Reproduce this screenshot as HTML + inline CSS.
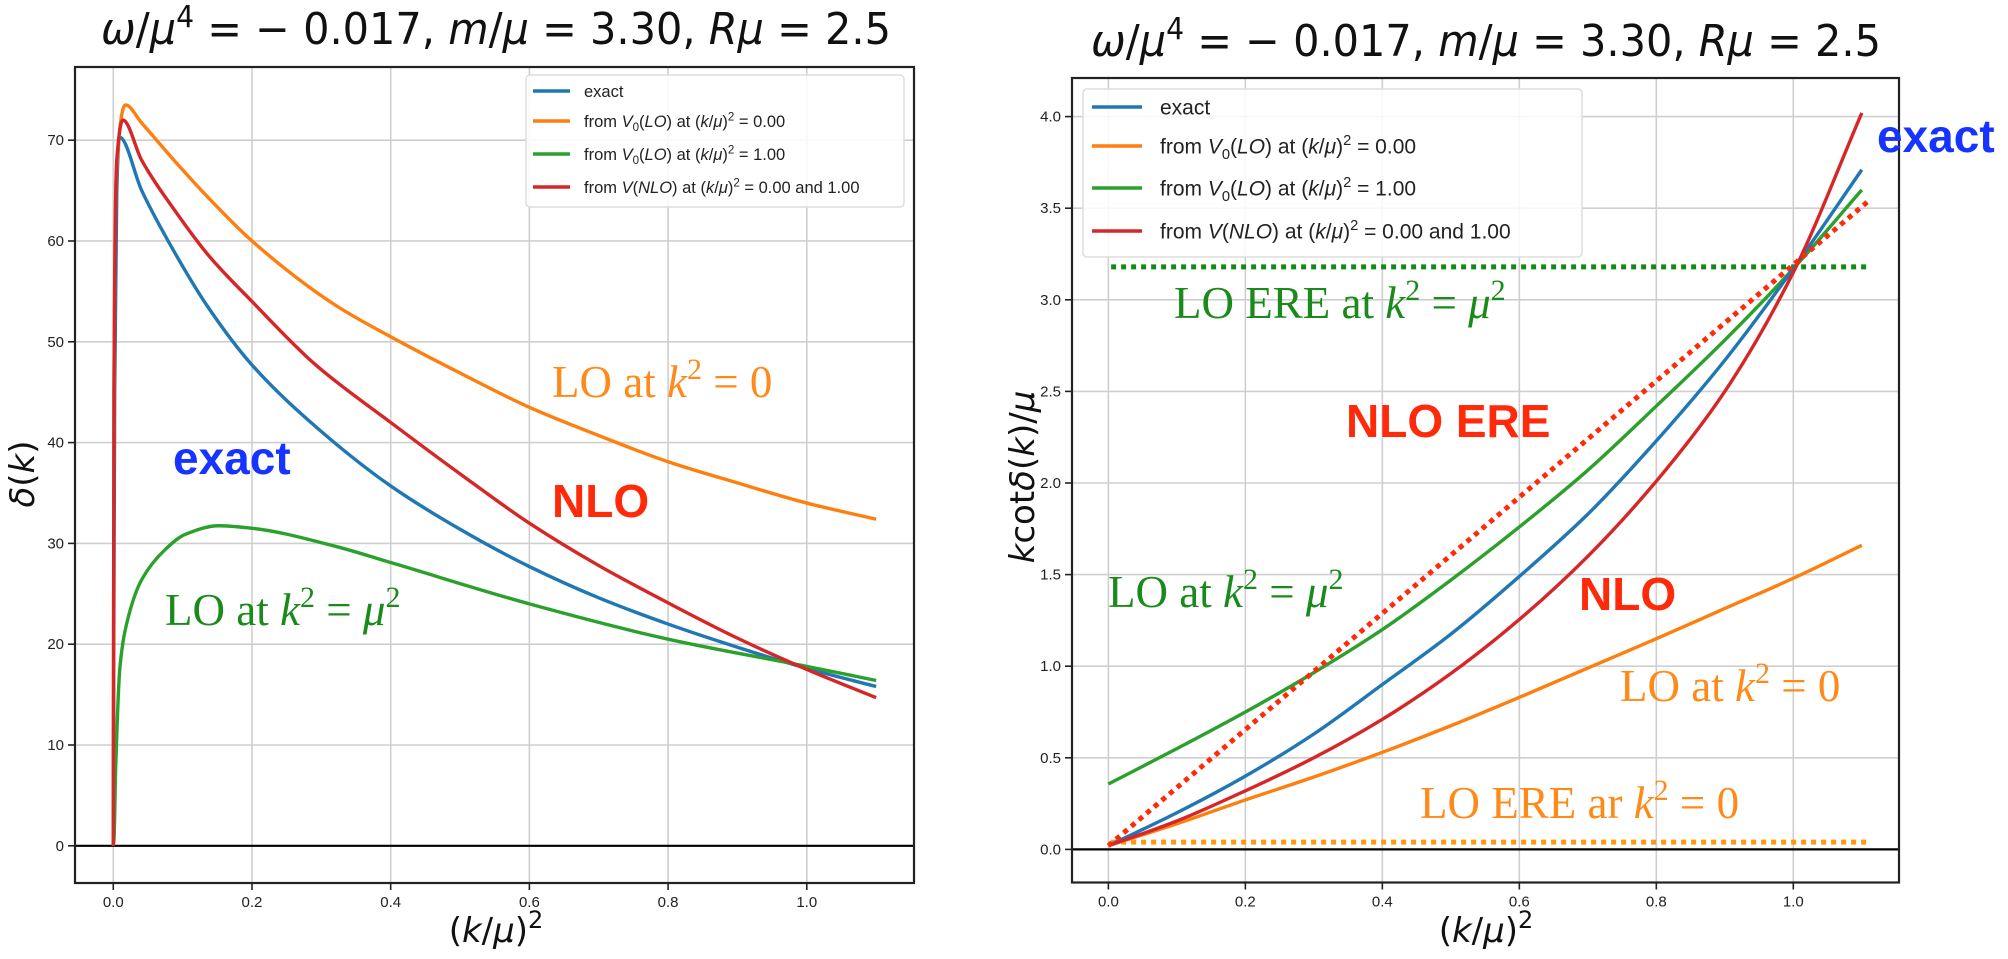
<!DOCTYPE html>
<html><head><meta charset="utf-8">
<style>
html,body{margin:0;padding:0;background:#fff;}
svg{display:block;}
text{font-family:"DejaVu Sans","Liberation Sans",sans-serif;}
.tick{font-family:"Liberation Sans",sans-serif;font-size:15px;fill:#222;}
.leg{font-family:"Liberation Sans",sans-serif;fill:#222;}
.ser{font-family:"Liberation Serif",serif;font-size:45px;}
.bold{font-family:"Liberation Sans",sans-serif;font-weight:bold;font-size:46px;}
</style></head>
<body>
<svg id="fig" width="2008" height="959" viewBox="0 0 2008 959" xmlns="http://www.w3.org/2000/svg">
<g id="left"></g>
<g id="right"></g>
</svg>
<script>
// ---------- Left chart data: delta(k) vs (k/mu)^2 ----------
const leftXTicks = [0.0, 0.2, 0.4, 0.6, 0.8, 1.0];
const leftYTicks = [0, 10, 20, 30, 40, 50, 60, 70];
const exactLX = [0, 0.0005, 0.002, 0.005, 0.009, 0.041, 0.089, 0.137, 0.2, 0.3, 0.4, 0.5, 0.6, 0.7, 0.8, 0.9, 1.0, 1.1];
const exactLY = [0, 13, 45, 65, 70.3, 65.0, 58.8, 53.4, 47.7, 41.1, 35.7, 31.4, 27.7, 24.6, 22.0, 19.7, 17.6, 15.8];
const loZeroLX = [0, 0.001, 0.004, 0.0175, 0.041, 0.089, 0.137, 0.2, 0.321, 0.4, 0.5, 0.6, 0.7, 0.8, 0.9, 1.0, 1.1];
const loZeroLY = [0, 45, 66, 73.5, 71.7, 67.9, 64.3, 60.0, 53.6, 50.5, 46.9, 43.5, 40.7, 38.1, 36.0, 34.0, 32.4];
const loOneLX = [0, 0.001, 0.0035, 0.0097, 0.0217, 0.041, 0.075, 0.104, 0.152, 0.2, 0.321, 0.4, 0.6, 0.8, 1.0, 1.1];
const loOneLY = [0, 0.6, 7.8, 17.8, 22.7, 26.4, 29.4, 30.9, 31.75, 31.5, 29.7, 28.1, 24.0, 20.5, 17.8, 16.4];
const nloLX = [0, 0.001, 0.005, 0.014, 0.041, 0.089, 0.137, 0.2, 0.292, 0.4, 0.5, 0.6, 0.7, 0.8, 0.9, 1.0, 1.1];
const nloLY = [0, 45, 68, 72, 68.0, 63.0, 58.6, 54.0, 47.7, 42.0, 36.9, 32.0, 27.8, 24.1, 20.6, 17.5, 14.7];

// ---------- Right chart data: k cot delta / mu ----------
const rightXTicks = [0.0, 0.2, 0.4, 0.6, 0.8, 1.0];
const rightYTicks = [0.0, 0.5, 1.0, 1.5, 2.0, 2.5, 3.0, 3.5, 4.0];
const rX = [0, 0.1, 0.2, 0.3, 0.4, 0.5, 0.6, 0.7, 0.8, 0.9, 1.0, 1.1];
const exactR = [0.02, 0.20, 0.40, 0.63, 0.90, 1.175, 1.49, 1.83, 2.23, 2.67, 3.17, 3.71];
const loZeroR = [0.02, 0.14, 0.27, 0.395, 0.53, 0.675, 0.83, 0.99, 1.15, 1.315, 1.48, 1.66];
const loOneR = [0.357, 0.55, 0.75, 0.965, 1.2, 1.47, 1.76, 2.07, 2.42, 2.78, 3.17, 3.6];
const nloR = [0.02, 0.155, 0.32, 0.50, 0.71, 0.96, 1.255, 1.6, 2.01, 2.5, 3.15, 4.02];
const ereNloX = [0, 1.11];
const ereNloY = [0.02, 3.54];
const ereOneX = [0.004, 1.113];
const ereOneY = [3.18, 3.18];
const ereZeroX = [0.004, 1.113];
const ereZeroY = [0.04, 0.04];

const NS = "http://www.w3.org/2000/svg";
function mk(parent, tag, attrs, txt){
  const e = document.createElementNS(NS, tag);
  for (const k in attrs) e.setAttribute(k, attrs[k]);
  if (txt !== undefined) e.textContent = txt;
  parent.appendChild(e);
  return e;
}
function monoPath(xs, ys, sx, sy){
  const n = xs.length;
  const d = [], m = new Array(n);
  for (let i = 0; i < n-1; i++) d.push((ys[i+1]-ys[i])/(xs[i+1]-xs[i]));
  m[0] = d[0]; m[n-1] = d[n-2];
  for (let i = 1; i < n-1; i++){
    if (d[i-1]*d[i] <= 0) m[i] = 0;
    else { const w1 = 2*(xs[i+1]-xs[i]) + (xs[i]-xs[i-1]), w2 = (xs[i+1]-xs[i]) + 2*(xs[i]-xs[i-1]);
      m[i] = (w1+w2)/(w1/d[i-1] + w2/d[i]); }
  }
  let p = "M" + sx(xs[0]).toFixed(2) + "," + sy(ys[0]).toFixed(2);
  for (let i = 0; i < n-1; i++){
    const h = xs[i+1]-xs[i];
    const c1x = xs[i]+h/3, c1y = ys[i]+m[i]*h/3, c2x = xs[i+1]-h/3, c2y = ys[i+1]-m[i+1]*h/3;
    p += " C"+sx(c1x).toFixed(2)+","+sy(c1y).toFixed(2)+" "+sx(c2x).toFixed(2)+","+sy(c2y).toFixed(2)+" "+sx(xs[i+1]).toFixed(2)+","+sy(ys[i+1]).toFixed(2);
  }
  return p;
}

const C = {blue:"#1f77b4", orange:"#ff7f0e", green:"#2ca02c", red:"#d62728"};

function axes(g, cfg){
  const sx = v => cfg.x0 + (v - cfg.xmin) / (cfg.xmax - cfg.xmin) * (cfg.x1 - cfg.x0);
  const sy = v => cfg.y1 - (v - cfg.ymin) / (cfg.ymax - cfg.ymin) * (cfg.y1 - cfg.y0);
  cfg.xticks.forEach(t => {
    const l = mk(g, "line", {x1:sx(t), x2:sx(t), y1:cfg.y0, y2:cfg.y1, stroke:"#cfcfcf", "stroke-width":1.6});
    
    
    const tm = mk(g, "line", {x1:sx(t), x2:sx(t), y1:cfg.y1, y2:cfg.y1+7, stroke:"#222", "stroke-width":1.6});
    
    
    const tx = mk(g, "text", {x:sx(t), y:cfg.y1+24, "text-anchor":"middle", class:"tick"}, t.toFixed(1));
    
    
  });
  cfg.yticks.forEach(t => {
    const l = mk(g, "line", {x1:cfg.x0, x2:cfg.x1, y1:sy(t), y2:sy(t), stroke:"#cfcfcf", "stroke-width":1.6});
    
    
    const tm = mk(g, "line", {x1:cfg.x0-7, x2:cfg.x0, y1:sy(t), y2:sy(t), stroke:"#222", "stroke-width":1.6});
    
    
    const tx = mk(g, "text", {x:cfg.x0-11, y:sy(t)+5, "text-anchor":"end", class:"tick"}, cfg.yfmt(t));
    
    
  });
  const z = mk(g, "line", {x1:cfg.x0, x2:cfg.x1, y1:sy(0), y2:sy(0), stroke:"#000", "stroke-width":2.2});
  
  
  return {sx, sy};
}
function frame(g, cfg){
  const r = mk(g, "rect", {x:cfg.x0, y:cfg.y0, width:cfg.x1-cfg.x0, height:cfg.y1-cfg.y0, fill:"none", stroke:"#222", "stroke-width":2.2});
  
  
}
function curve(g, s, xs, ys, color, name, dotted){
  let d;
  if (dotted) d = "M" + xs.map((x,i) => s.sx(x)+","+s.sy(ys[i])).join(" L");
  else d = monoPath(xs, ys, s.sx, s.sy);
  const attrs = {d: d, fill:"none", stroke:color, "stroke-width": dotted ? 5 : 3.4, "stroke-linejoin":"round"};
  if (dotted) attrs["stroke-dasharray"] = "5,5";
  const p = mk(g, "path", attrs);
  
  
}
function title(g, cx, y){
  const t = mk(g, "text", {x:cx, y:y, "text-anchor":"middle", "font-size":44, fill:"#111", textLength:790, lengthAdjust:"spacingAndGlyphs"});
  t.innerHTML = '<tspan font-style="italic">ω</tspan>/<tspan font-style="italic">μ</tspan><tspan dy="-17" font-size="30">4</tspan><tspan dy="17"> = − 0.017, </tspan><tspan font-style="italic">m</tspan>/<tspan font-style="italic">μ</tspan> = 3.30, <tspan font-style="italic">Rμ</tspan> = 2.5';
  
  
}
function legend(g, x, y, w, h, rows, fs, lineLen, textX){
  const r = mk(g, "rect", {x:x, y:y, width:w, height:h, rx:4, fill:"#fff", "fill-opacity":0.85, stroke:"#ddd", "stroke-width":1.5});
  
  
  rows.forEach(row => {
    const l = mk(g, "line", {x1:row.lx, x2:row.lx+lineLen, y1:row.y, y2:row.y, stroke:row.c, "stroke-width":3.6});
    
    
    const t = mk(g, "text", {x:textX, y:row.y + fs*0.36, class:"leg", "font-size":fs});
    t.innerHTML = row.h;
    
    
  });
}
const legRows = (fs) => {
  const sub = '<tspan dy="'+(fs*0.25)+'" font-size="'+(fs*0.7)+'">0</tspan><tspan dy="'+(-fs*0.25)+'">';
  const sq = '<tspan dy="'+(-fs*0.4)+'" font-size="'+(fs*0.7)+'">2</tspan><tspan dy="'+(fs*0.4)+'">';
  return [
    {c:C.blue, h:'exact'},
    {c:C.orange, h:'from <tspan font-style="italic">V</tspan>'+sub+'(<tspan font-style="italic">LO</tspan>) at (<tspan font-style="italic">k</tspan>/<tspan font-style="italic">μ</tspan>)</tspan>'+sq+' = 0.00</tspan></tspan>'},
    {c:C.green, h:'from <tspan font-style="italic">V</tspan>'+sub+'(<tspan font-style="italic">LO</tspan>) at (<tspan font-style="italic">k</tspan>/<tspan font-style="italic">μ</tspan>)</tspan>'+sq+' = 1.00</tspan></tspan>'},
    {c:C.red, h:'from <tspan font-style="italic">V</tspan>(<tspan font-style="italic">NLO</tspan>) at (<tspan font-style="italic">k</tspan>/<tspan font-style="italic">μ</tspan>)'+sq+' = 0.00 and 1.00</tspan>'}
  ];
};
function note(g, x, y, cls, color, html, name){
  const t = mk(g, "text", {x:x, y:y, class:cls, fill:color});
  t.innerHTML = html;
  
  
}
const K2 = '<tspan font-style="italic">k</tspan><tspan dy="-18" font-size="30">2</tspan><tspan dy="18"> = </tspan>';
const MU2 = '<tspan font-style="italic">μ</tspan><tspan dy="-18" font-size="30">2</tspan>';
function xlabel(g, cx, y){
  const t = mk(g, "text", {x:cx, y:y, "text-anchor":"middle", "font-size":34, fill:"#111"});
  t.innerHTML = '(<tspan font-style="italic">k</tspan>/<tspan font-style="italic">μ</tspan>)<tspan dy="-14" font-size="24">2</tspan>';
  
  
}

// ----- LEFT -----
const L = document.getElementById("left");
const lcfg = {x0:75, x1:914, y0:67, y1:883, xmin:-0.0552, xmax:1.1546, ymin:-3.69, ymax:77.26, xticks:leftXTicks, yticks:leftYTicks, yfmt:t=>String(t)};
const ls = axes(L, lcfg);
curve(L, ls, exactLX, exactLY, C.blue, "exact-line");
curve(L, ls, loZeroLX, loZeroLY, C.orange, "lo-k0-line");
curve(L, ls, loOneLX, loOneLY, C.green, "lo-k1-line");
curve(L, ls, nloLX, nloLY, C.red, "nlo-line");
frame(L, lcfg);
legend(L, 526, 75, 378, 132, legRows(16.5).map((r,i)=>Object.assign(r,{lx:533, y:[91,121,154,187][i]})), 16.5, 37, 584);
title(L, 496, 44);
xlabel(L, 496, 942);
{const t = mk(L, "text", {x:0, y:0, "font-size":34, fill:"#111", "text-anchor":"middle", transform:"translate(34,474) rotate(-90)"});
 t.innerHTML = '<tspan font-style="italic">δ</tspan>(<tspan font-style="italic">k</tspan>)';
 
 }
note(L, 173, 474, "bold", "#1633ff", "exact", "exact-annotation");
note(L, 552, 517, "bold", "#ff2a0a", "NLO", "nlo-annotation");
note(L, 552, 397, "ser", "#ff8a1a", 'LO at '+K2+'0', "lo-k0-annotation");
note(L, 165, 625, "ser", "#1a8a1a", 'LO at '+K2+MU2, "lo-k1-annotation");

// ----- RIGHT -----
const R = document.getElementById("right");
const rcfg = {x0:1072, x1:1899, y0:78, y1:882.5, xmin:-0.0531, xmax:1.1543, ymin:-0.1807, ymax:4.2107, xticks:rightXTicks, yticks:rightYTicks, yfmt:t=>t.toFixed(1)};
const rs = axes(R, rcfg);
curve(R, rs, ereOneX, ereOneY, "#138a13", "lo-ere-k1-dotted", true);
curve(R, rs, ereZeroX, ereZeroY, "#ff9a10", "lo-ere-k0-dotted", true);
curve(R, rs, rX, loOneR, C.green, "lo-k1-line");
curve(R, rs, rX, exactR, C.blue, "exact-line");
curve(R, rs, rX, loZeroR, C.orange, "lo-k0-line");
curve(R, rs, rX, nloR, C.red, "nlo-line");
curve(R, rs, ereNloX, ereNloY, "#ff2a0a", "nlo-ere-dotted", true);
frame(R, rcfg);
legend(R, 1083, 89, 499, 168, legRows(21).map((r,i)=>Object.assign(r,{lx:1092, y:[107,146,188,231][i]})), 21, 50, 1160);
title(R, 1486, 56);
xlabel(R, 1486, 942);
{const t = mk(R, "text", {x:0, y:0, "font-size":34, fill:"#111", "text-anchor":"middle", transform:"translate(1034,477) rotate(-90)"});
 t.innerHTML = '<tspan font-style="italic">k</tspan>cot<tspan font-style="italic">δ</tspan>(<tspan font-style="italic">k</tspan>)/<tspan font-style="italic">μ</tspan>';
 
 }
note(R, 1877, 152, "bold", "#1633ff", "exact", "exact-annotation");
note(R, 1346, 437, "bold", "#ff2a0a", "NLO ERE", "nlo-ere-annotation");
note(R, 1579, 610, "bold", "#ff2a0a", "NLO", "nlo-annotation");
note(R, 1174, 318, "ser", "#1a8a1a", 'LO ERE at '+K2+MU2, "lo-ere-k1-annotation");
note(R, 1108, 607, "ser", "#1a8a1a", 'LO at '+K2+MU2, "lo-k1-annotation");
note(R, 1620, 701, "ser", "#ff8a1a", 'LO at '+K2+'0', "lo-k0-annotation");
note(R, 1420, 818, "ser", "#ff8a1a", 'LO ERE ar '+K2+'0', "lo-ere-k0-annotation");
</script>
</body></html>
